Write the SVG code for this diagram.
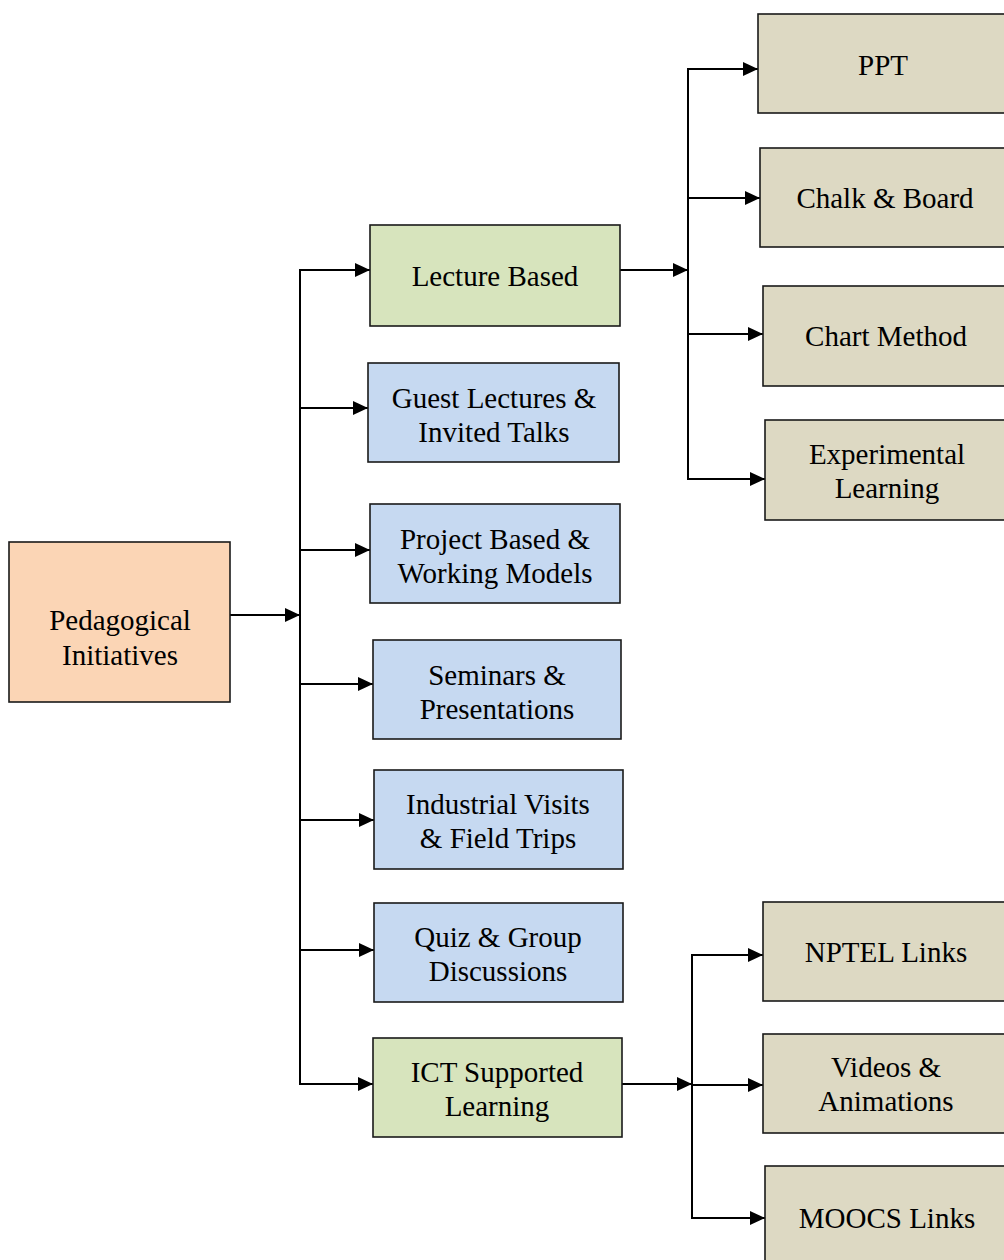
<svg xmlns="http://www.w3.org/2000/svg" width="1004" height="1260" viewBox="0 0 1004 1260">
<defs>
<marker id="ah" markerUnits="userSpaceOnUse" viewBox="0 0 15 14" markerWidth="15" markerHeight="14" refX="15" refY="7" orient="auto">
<path d="M0,0 L15,7 L0,14 z" fill="#000"/>
</marker>
<style>
.box{stroke:#1a1a1a;stroke-width:1.6}
.root{fill:#FBD5B5}
.green{fill:#D7E4BD}
.blue{fill:#C6D9F1}
.tan{fill:#DDD9C3}
text{font-family:"Liberation Serif","Times New Roman",serif;font-size:29px;fill:#000;text-anchor:middle}
.ln{fill:none;stroke:#000;stroke-width:2}
.ar{fill:none;stroke:#000;stroke-width:2;marker-end:url(#ah)}
</style>
</defs>
<rect width="1004" height="1260" fill="#fff"/>
<g id="connectors">
<path class="ar" d="M230,615 H300"/>
<path class="ln" d="M300,270 V1085"/>
<path class="ar" d="M299,270 H370"/>
<path class="ar" d="M299,408 H368"/>
<path class="ar" d="M299,550 H370"/>
<path class="ar" d="M299,684 H373"/>
<path class="ar" d="M299,820 H374"/>
<path class="ar" d="M299,950 H374"/>
<path class="ar" d="M299,1084 H373"/>
<path class="ar" d="M620,270 H688"/>
<path class="ln" d="M688,69 V479"/>
<path class="ar" d="M687,69 H758"/>
<path class="ar" d="M687,198 H760"/>
<path class="ar" d="M687,334 H763"/>
<path class="ar" d="M687,479 H765"/>
<path class="ar" d="M622,1084 H692"/>
<path class="ln" d="M692,955 V1218"/>
<path class="ar" d="M691,955 H763"/>
<path class="ar" d="M691,1085 H763"/>
<path class="ar" d="M691,1218 H765"/>
</g>
<g id="n-root"><rect class="box root" x="9" y="542" width="221" height="160"/><text x="120" y="630">Pedagogical</text><text x="120" y="665">Initiatives</text></g>
<g id="n-lecture"><rect class="box green" x="370" y="225" width="250" height="101"/><text x="495" y="286">Lecture Based</text></g>
<g id="n-guest"><rect class="box blue" x="368" y="363" width="251" height="99"/><text x="494" y="408">Guest Lectures &amp;</text><text x="494" y="442">Invited Talks</text></g>
<g id="n-project"><rect class="box blue" x="370" y="504" width="250" height="99"/><text x="495" y="549">Project Based &amp;</text><text x="495" y="583">Working Models</text></g>
<g id="n-seminars"><rect class="box blue" x="373" y="640" width="248" height="99"/><text x="497" y="685">Seminars &amp;</text><text x="497" y="719">Presentations</text></g>
<g id="n-industrial"><rect class="box blue" x="374" y="770" width="249" height="99"/><text x="498" y="814">Industrial Visits</text><text x="498" y="848">&amp; Field Trips</text></g>
<g id="n-quiz"><rect class="box blue" x="374" y="903" width="249" height="99"/><text x="498" y="947">Quiz &amp; Group</text><text x="498" y="981">Discussions</text></g>
<g id="n-ict"><rect class="box green" x="373" y="1038" width="249" height="99"/><text x="497" y="1082">ICT Supported</text><text x="497" y="1116">Learning</text></g>
<g id="n-ppt"><rect class="box tan" x="758" y="14" width="252" height="99"/><text x="883" y="75">PPT</text></g>
<g id="n-chalk"><rect class="box tan" x="760" y="148" width="250" height="99"/><text x="885" y="208">Chalk &amp; Board</text></g>
<g id="n-chart"><rect class="box tan" x="763" y="286" width="247" height="100"/><text x="886" y="346">Chart Method</text></g>
<g id="n-experimental"><rect class="box tan" x="765" y="420" width="245" height="100"/><text x="887" y="464">Experimental</text><text x="887" y="498">Learning</text></g>
<g id="n-nptel"><rect class="box tan" x="763" y="902" width="247" height="99"/><text x="886" y="962">NPTEL Links</text></g>
<g id="n-videos"><rect class="box tan" x="763" y="1034" width="247" height="99"/><text x="886" y="1077">Videos &amp;</text><text x="886" y="1111">Animations</text></g>
<g id="n-moocs"><rect class="box tan" x="765" y="1166" width="245" height="100"/><text x="887" y="1228">MOOCS Links</text></g>
</svg>
